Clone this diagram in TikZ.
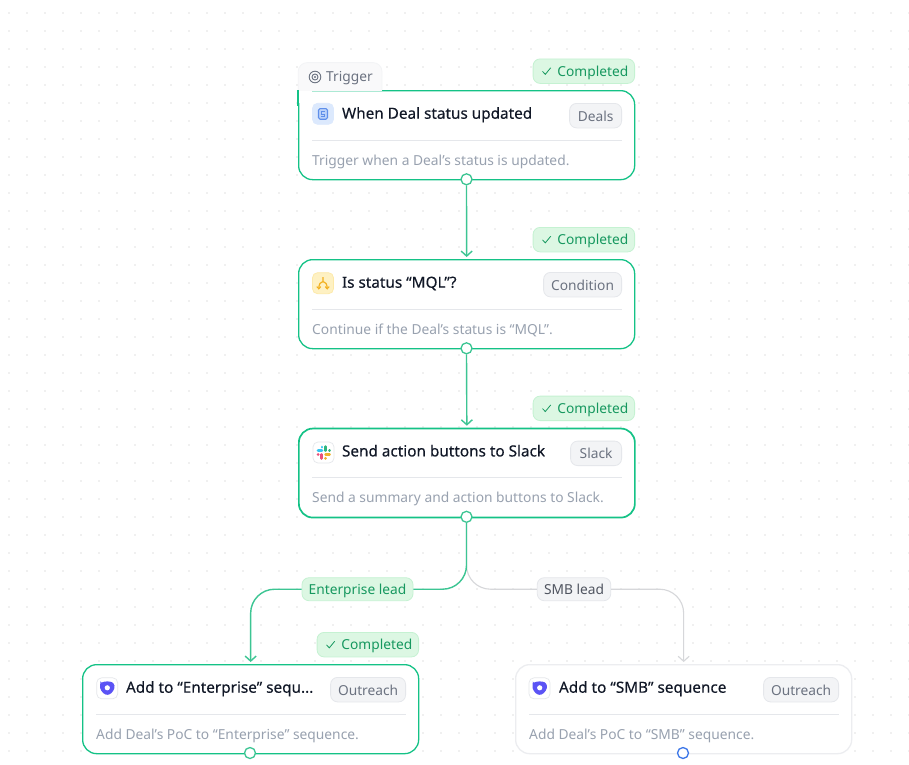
\documentclass[tikz,border=0pt]{standalone}
\usepackage{fontspec}
\setmainfont{Noto Sans}
\newfontfamily\titlefont{Noto Sans}[FakeBold=0.25]
\usetikzlibrary{arrows.meta}
\definecolor{edgegreen}{HTML}{3CC593}
\definecolor{cardgreen}{HTML}{14C286}
\definecolor{edgegray}{HTML}{D6D7DA}
\definecolor{cardgray}{HTML}{ECEDF0}
\definecolor{dotgray}{HTML}{F0F0F0}
\definecolor{badgefill}{HTML}{F3F4F6}
\definecolor{badgeline}{HTML}{E5E7EB}
\definecolor{badgetext}{HTML}{6B7280}
\definecolor{desctext}{HTML}{98A1AF}
\definecolor{titletext}{HTML}{111827}
\definecolor{donefill}{HTML}{DCF7E3}
\definecolor{doneline}{HTML}{C5F2D2}
\definecolor{donetext}{HTML}{16985F}
\definecolor{handleblue}{HTML}{3B76E8}
\definecolor{rule}{HTML}{E5E7EB}
\definecolor{outreach}{HTML}{5B53F5}
\definecolor{dealfill}{HTML}{DCE9FD}
\definecolor{dealicon}{HTML}{5F8FEA}
\definecolor{dealinner}{HTML}{BBD2FA}
\definecolor{condfill}{HTML}{FEF1C3}
\definecolor{condline}{HTML}{FDE9A8}
\definecolor{condicon}{HTML}{F2B01E}
\definecolor{slackblue}{HTML}{36C5F0}
\definecolor{slackgreen}{HTML}{2EB67D}
\definecolor{slackred}{HTML}{E9507A}
\definecolor{slackyellow}{HTML}{ECB22E}
\tikzset{
  x=1pt,y=-1pt,
  flowcard/.style={draw=cardgreen,line width=1.3pt,fill=white,rounded corners=14pt,minimum width=336pt,minimum height=89pt,inner sep=0pt,anchor=north west},
  idlecard/.style={flowcard,draw=cardgray},
  title/.style={anchor=base west,inner sep=0pt,text=titletext,font=\titlefont\fontsize{15.3}{18}\selectfont},
  desc/.style={anchor=base west,inner sep=0pt,text=desctext,font=\fontsize{13.8}{16}\selectfont},
  chip/.style={draw=badgeline,line width=.8pt,fill=badgefill,rounded corners=7pt,minimum height=24.5pt,inner sep=0pt,text=badgetext,text height=14pt,text depth=2.8pt,font=\fontsize{13.75}{16}\selectfont},
  done/.style={draw=doneline,line width=.8pt,fill=donefill,rounded corners=7pt,minimum width=101.5pt,minimum height=24.5pt,inner sep=0pt,text=donetext,text height=13pt,text depth=2.6pt,font=\fontsize{13.75}{16}\selectfont},
  edgelabel/.style={chip,minimum height=23pt,text height=12.6pt,text depth=3pt},
  handle/.style={circle,draw=edgegreen,line width=1.3pt,fill=white,minimum size=11pt,inner sep=0pt},
  iconbox/.style={draw=badgeline,line width=.7pt,fill=white,rounded corners=5pt,minimum size=21pt,inner sep=0pt},
  flow/.style={edgegreen,line width=1.4pt},
  flowidle/.style={edgegray,line width=1.1pt},
  tip/.style={-{Straight Barb[length=5pt,width=11pt]},shorten >=2pt},
  rulerline/.style={draw=rule,line width=.8pt},
  checkmark/.style={draw=donetext,line width=.8pt},
  slackbar/.style={line width=2.7pt,line cap=round},
}
% card: name, x, y, title, description, chip text, chip width, style
\newcommand{\flowbox}[8]{%
  \node[#8] (#1) at (#2,#3) {};
  \node[title] (#1t) at (#2+43.8,#3+28.7) {#4};
  \node[desc] (#1d) at (#2+14,#3+75.2) {#5};
  \draw[rulerline] (#2+14,#3+50) -- (#2+324,#3+50);
  \node[chip,minimum width=#7pt,anchor=north east] (#1c) at (#2+324,#3+13) {#6};
}
\newcommand{\donetag}[3]{%
  \node[done,anchor=north east] (#1) at (#2,#3) {\hspace*{18pt}Completed};
  \draw[checkmark] ([shift={(9.8,0.2)}]#1.west) -- ([shift={(12.6,3.2)}]#1.west) -- ([shift={(18,-3.4)}]#1.west);
}
\newcommand{\shieldicon}[2]{%
  \fill[outreach,rounded corners=2.2pt] (#1-6.8,#2-4.8) .. controls (#1-3,#2-7.2) and (#1+3,#2-7.2) .. (#1+6.8,#2-4.8) .. controls (#1+7.8,#2+0.5) and (#1+5,#2+4.8) .. (#1,#2+7) .. controls (#1-5,#2+4.8) and (#1-7.8,#2+0.5) .. (#1-6.8,#2-4.8) -- cycle;
  \fill[white] (#1,#2-0.5) circle (2.6);
}
\begin{document}
\begin{tikzpicture}
\useasboundingbox (0,0) rectangle (909,764);
\fill[white] (0,0) rectangle (909,764);
\foreach \i in {0,...,50}{\foreach \j in {0,...,41}{\fill[dotgray] (8+18*\i,12+18*\j) rectangle ++(2,2);}}

\flowbox{c1}{298}{90}{When Deal status updated}{Trigger when a Deal’s status is updated.}{Deals}{52}{flowcard}
\flowbox{c2}{298}{259}{Is status “MQL”?}{Continue if the Deal’s status is “MQL”.}{Condition}{78}{flowcard}
\flowbox{c3}{298}{427.7}{Send action buttons to Slack}{Send a summary and action buttons to Slack.}{Slack}{51}{flowcard,line width=1.7pt}
\flowbox{c4}{82}{664}{Add to “Enterprise” sequ...}{Add Deal’s PoC to “Enterprise” sequence.}{Outreach}{75}{flowcard}
\flowbox{c5}{515}{664}{Add to “SMB” sequence}{Add Deal’s PoC to “SMB” sequence.}{Outreach}{75}{idlecard}

% trigger tab, sitting over the first card's corner
\fill[white] (299,90) rectangle (311.5,102.5);
\fill[white!50!badgefill,rounded corners=9pt] (298.2,85) -- (298.2,62.6) -- (382,62.6) -- (382,85) -- cycle;
\fill[white!50!badgefill] (298.2,75) rectangle (382,91);
\draw[badgefill,line width=.8pt,rounded corners=9pt] (298.2,90) -- (298.2,62.6) -- (382,62.6) -- (382,90);
\draw[cardgreen,line width=1.3pt] (298,90.2) -- (298,106);
\node[anchor=base west,inner sep=0pt,text=badgetext,font=\fontsize{13.75}{16}\selectfont] (triggerlabel) at (326,81.7) {Trigger};
\draw[badgetext,line width=.9pt] (315,77) circle (5.8) circle (3);
\fill[badgetext] (315,77) circle (1.2);

\donetag{d1}{635}{58.5}
\donetag{d2}{635}{227}
\donetag{d3}{635}{395.7}
\donetag{d4}{419}{632}

% icons
\node[iconbox,fill=dealfill,draw=dealfill] (i1) at (323,113.8) {};
\draw[dealicon,fill=dealinner,line width=1.1pt,rounded corners=1.5pt] (318.5,108.6) rectangle (327.5,119.2);
\draw[dealicon,line width=.8pt] (325,111.5) -- (321.5,111.5) -- (321.5,113.9) -- (324.6,113.9) -- (324.6,116.3) -- (321,116.3);
\node[iconbox,fill=condfill,draw=condline] (i2) at (323,283.2) {};
\draw[condicon,line width=1.2pt] (323,277) -- (323,281.5)
  (318.8,288.5) .. controls (318.8,284) and (320.8,281.5) .. (323,281.5) .. controls (325.2,281.5) and (327.2,284) .. (327.2,288.5);
\draw[condicon,line width=1.1pt] (316.8,286.6) -- (318.8,288.8) -- (320.8,286.6) (325.2,286.6) -- (327.2,288.8) -- (329.2,286.6);
\node[iconbox] (i3) at (323.5,452.5) {};
\draw[slackbar,slackblue] (322,447) -- (322,447.2) (318,450.6) -- (322,450.6);
\draw[slackbar,slackgreen] (325.6,446.6) -- (325.6,450.6) (329.4,450.6) -- (329.6,450.6);
\draw[slackbar,slackred] (318,454.4) -- (318.2,454.4) (321.8,454.4) -- (321.8,458.4);
\draw[slackbar,slackyellow] (325.6,454.4) -- (329.6,454.4) (325.6,458.2) -- (325.6,458.4);
\node[iconbox] (i4) at (107.2,688.3) {};
\shieldicon{107.3}{688.3}
\node[iconbox] (i5) at (539.5,688.3) {};
\shieldicon{539.7}{688.3}

% handles
\node[handle] (h1) at (466.5,179.3) {};
\node[handle] (h2) at (466.5,348.3) {};
\node[handle] (h3) at (466.5,516.8) {};
\node[handle] (h4) at (250,753) {};
\node[handle,draw=handleblue] (h5) at (683,753) {};

% branch labels
\node[edgelabel,draw=doneline,fill=donefill,text=donetext,minimum width=111pt] (le) at (357.5,589.2) {Enterprise lead};
\node[edgelabel,minimum width=73.5pt,text=badgetext!75!black] (ls) at (574,589.2) {SMB lead};

% connectors
\draw[flowidle,rounded corners=24pt] (h3.south) |- (ls.west);
\draw[flowidle,tip,rounded corners=24pt] (ls.east) -| (c5.north);
\draw[flow,tip] (h1.south) -- (c2.north);
\draw[flow,tip] (h2.south) -- (c3.north);
\draw[flow,rounded corners=24pt] (h3.south) |- (le.east);
\draw[flow,tip,rounded corners=24pt] (le.west) -| (c4.north);
\end{tikzpicture}
\end{document}
